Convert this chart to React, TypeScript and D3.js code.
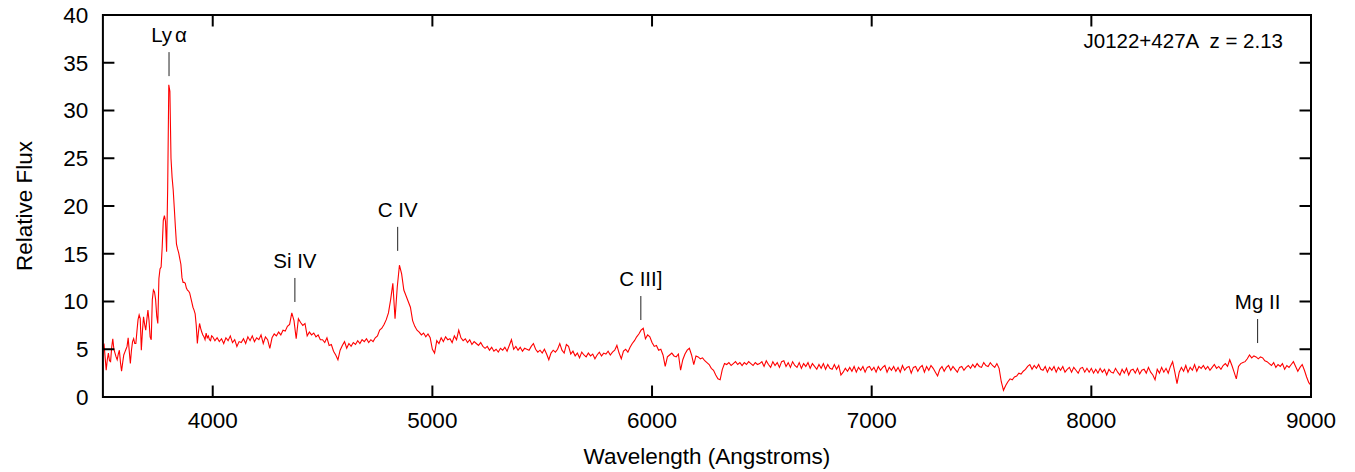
import React from 'react'
import * as d3 from 'd3'

// flux sampled on regular wavelength grids (Angstroms)
const lyaStart = 3500
const lyaStep = 5
const fluxLya = [
  5.0, 5.6, 4.2, 2.8, 3.9, 4.6, 3.8, 3.7, 5.2, 6.1,
  5.0, 4.6, 4.2, 3.9, 4.5, 4.9, 3.6, 2.7, 3.6, 4.4,
  4.7, 5.0, 5.3, 6.2, 4.8, 3.5, 4.9, 5.8, 6.1, 5.6,
  5.6, 6.9, 8.1, 8.6, 8.2, 4.9, 6.9, 8.4, 7.6, 7.0,
  8.1, 9.1, 8.0, 6.3, 6.0, 10.2, 11.2, 11.0, 10.2, 8.5,
  7.7, 12.4, 13.4, 13.6, 15.7, 18.5, 19.0, 18.4, 15.2, 22.0,
  32.7, 32.0, 25.0, 23.0, 21.7, 19.8, 17.8, 16.0, 15.5, 15.1,
  14.5, 13.9, 12.5, 12.0, 12.0, 11.9, 11.4, 11.2, 11.1, 10.9,
  10.4, 9.9, 9.4, 9.1, 8.7, 7.5, 5.6, 6.8, 7.7, 7.2,
  6.8, 6.5, 6.3, 6.0, 6.7, 6.2, 6.4, 6.0, 5.9, 6.4
]

const gridStep = 10
const flux4000 = [
  6.3, 5.9, 6.2, 5.8, 6.1, 5.6, 6.2, 5.9, 6.4, 5.7,
  6.0, 5.3, 5.8, 5.7, 6.1, 5.6, 6.3, 5.9, 6.4, 5.8,
  6.2, 6.0, 6.5, 5.6, 6.3, 6.0, 5.1, 6.2, 6.6, 6.4,
  6.8, 6.5, 7.0, 6.9, 7.4, 7.6, 8.8, 8.0, 6.1, 8.2,
  7.8, 7.5, 7.7, 6.4, 6.8, 6.5, 6.7, 6.3, 6.5, 6.0
]
const flux4500 = [
  6.0, 5.7, 6.2, 5.4, 5.5, 4.8, 4.4, 3.9, 4.9, 5.4,
  5.8, 5.1, 5.6, 5.3, 5.7, 5.5, 5.9, 5.6, 6.0, 5.8,
  6.1, 5.7, 6.0, 5.8, 6.2, 6.4, 7.0, 7.2, 7.6, 8.1,
  8.8, 10.2, 11.9, 8.2, 11.5, 13.8, 12.9, 11.2, 10.6, 10.0,
  9.4, 8.0, 7.4, 7.0, 6.8, 6.5, 6.7, 6.3, 6.6, 6.2
]
const flux5000 = [
  5.0, 4.6, 5.9, 5.6, 6.2, 5.8, 6.3, 6.0, 6.1, 5.7,
  6.4, 6.0, 7.0, 6.2, 5.9, 6.1, 5.7, 6.0, 5.5, 5.8,
  5.6, 5.4, 5.7, 5.3, 5.1, 5.3, 4.9, 5.2, 4.8, 5.0,
  4.7, 5.1, 4.9, 5.2, 4.8, 5.4, 6.0, 5.0, 5.3, 4.9,
  5.2, 4.8, 5.1, 5.0, 4.9, 5.3, 5.6, 5.0, 4.7, 4.9
]
const flux5500 = [
  4.6, 5.0, 4.5, 3.9, 4.6, 4.9, 4.7, 5.0, 5.6, 4.9,
  4.6, 5.5, 5.3, 4.5, 4.8, 4.3, 4.6, 4.1, 4.7, 4.4,
  4.2, 4.6, 4.3, 4.5, 4.0, 4.4, 4.7, 4.3, 4.6, 4.5,
  4.8, 4.4, 4.7, 4.9, 5.4, 4.6, 4.0, 4.8, 5.0, 4.7,
  5.2, 5.6, 5.9, 6.3, 6.6, 7.0, 7.2, 6.1, 6.5, 6.3
]
const flux6000 = [
  5.7, 5.3, 5.4, 4.9, 5.0, 4.4, 3.2, 4.2, 4.4, 4.6,
  4.3, 4.2, 4.5, 2.8, 3.9, 4.5, 4.9, 5.1, 4.4, 3.4,
  4.3, 4.2, 4.0, 4.1, 3.8, 3.6, 3.4, 3.0, 2.8, 2.3,
  1.9, 1.8, 2.9, 3.5, 3.4, 3.6, 3.3, 3.5, 3.7, 3.4,
  3.6, 3.3, 3.6, 3.4, 3.7, 3.5, 3.3, 3.6, 3.4, 3.5
]
const flux6500 = [
  3.7, 3.2, 3.8, 3.4, 3.1, 3.7, 3.3, 3.6, 3.1, 3.7,
  3.8, 3.2, 3.6, 3.1, 3.7, 3.3, 3.1, 3.6, 3.0, 3.5,
  3.2, 3.6, 3.0, 3.5, 3.2, 2.9, 3.4, 3.0, 3.5, 2.9,
  3.4, 3.0, 2.9, 3.4, 2.9, 3.3, 2.3, 2.6, 3.0, 2.7,
  3.1, 2.7, 3.2, 2.6, 3.1, 2.8, 3.2, 2.6, 3.1, 3.2
]
const flux7000 = [
  2.8, 3.1, 2.6, 3.2, 2.8, 3.1, 3.3, 2.6, 3.1, 2.8,
  3.2, 2.7, 3.1, 2.6, 3.3, 2.8, 3.1, 3.2, 2.5, 3.1,
  3.2, 2.7, 3.1, 3.3, 2.6, 3.2, 2.8, 3.3, 3.0, 2.6,
  2.2, 2.9, 3.2, 2.7, 3.1, 3.3, 2.8, 3.2, 2.9, 2.6,
  3.1, 3.2, 2.8, 3.1, 3.3, 3.0, 3.4, 3.1, 3.5, 3.2
]
const flux7500 = [
  3.1, 3.6, 3.3, 3.2, 3.6, 3.3, 3.1, 3.5, 3.0, 1.6,
  0.7, 1.2, 1.6, 1.9, 1.8, 2.1, 2.2, 2.5, 2.4, 2.7,
  2.9, 3.2, 3.4, 2.9, 3.3, 3.0, 3.4, 2.9, 2.8, 3.2,
  2.6, 3.1, 2.8, 3.2, 2.6, 3.1, 2.8, 3.2, 2.6, 2.9,
  3.1, 2.6, 3.1, 2.8, 2.5, 3.0, 3.1, 2.6, 3.0, 2.6
]
const flux8000 = [
  3.0, 2.5, 2.9, 2.5, 3.0, 2.6, 2.9, 2.3, 2.9, 2.6,
  2.5, 3.0, 2.6, 2.3, 2.9, 2.5, 3.0, 2.3, 2.8, 2.9,
  2.5, 3.0, 2.4, 2.8, 2.9, 2.5, 3.1, 2.6, 2.3, 1.8,
  2.9, 2.5, 3.1, 2.6, 3.0, 2.5, 3.2, 3.7, 2.6, 1.4,
  2.6, 3.1, 2.7, 3.3, 2.6, 3.1, 2.8, 3.4, 2.7, 3.2
]
const flux8500 = [
  3.0, 3.3, 2.9, 3.2, 2.8, 3.1, 3.4, 3.0, 3.2, 2.9,
  3.3, 3.5, 3.2, 3.9, 3.3, 2.6, 1.9, 3.2, 3.5, 3.6,
  3.7, 4.0, 4.4, 4.1, 4.3, 4.2, 4.0, 4.2, 4.1, 3.8,
  3.7, 3.5, 3.3, 3.6, 3.1, 3.4, 3.2, 3.5, 2.9, 3.3,
  3.1, 3.4, 3.7, 3.2, 2.7, 3.1, 3.4, 2.8, 2.1, 1.5,
  1.2
]

const segments: [number, number, number[]][] = [
  [lyaStart, lyaStep, fluxLya],
  [4000, gridStep, flux4000],
  [4500, gridStep, flux4500],
  [5000, gridStep, flux5000],
  [5500, gridStep, flux5500],
  [6000, gridStep, flux6000],
  [6500, gridStep, flux6500],
  [7000, gridStep, flux7000],
  [7500, gridStep, flux7500],
  [8000, gridStep, flux8000],
  [8500, gridStep, flux8500]
]

// emission line markers: name, wavelength, flux at the foot of the marker
const lineNames = ['Ly', 'Si IV', 'C IV', 'C III]', 'Mg II']
const lineWavelengths = [3801, 4374, 4842, 5949, 8757]
const lineFlux = [33.6, 9.95, 15.3, 8.06, 5.65]

const xTicks = [4000, 5000, 6000, 7000, 8000, 9000]
const yTicks = [0, 5, 10, 15, 20, 25, 30, 35, 40]
const title = 'J0122+427A  z = 2.13'

const font = 'Liberation Sans, Arial, sans-serif'

export default function App () {
  const width = 1355
  const height = 472
  const left = 102.9
  const right = 1311
  const top = 15
  const bottom = 397
  const tickLen = 11.5

  const x = d3.scaleLinear().domain([3500, 9000]).range([left, right])
  const y = d3.scaleLinear().domain([0, 40]).range([bottom, top])

  const spectrum = segments.flatMap(([start, step, values]) =>
    values.map((f, i) => [start + i * step, f] as [number, number]))

  const line = d3.line<[number, number]>()
    .x(d => x(d[0]))
    .y(d => y(d[1]))

  return <svg width={width} height={height} style={{ position: 'absolute', left: 0, top: 0 }}
    fontFamily={font} fontSize={22.5}>
    <rect width={width} height={height} fill='#fff' />
    <defs>
      <clipPath id='plot'>
        <rect x={left} y={top} width={right - left} height={bottom - top} />
      </clipPath>
    </defs>
    <path d={line(spectrum) ?? ''} fill='none' stroke='#f00' strokeWidth={1.1} clipPath='url(#plot)' />

    {
      lineNames.map((name, i) => {
        const lx = x(lineWavelengths[i])
        const ly = y(lineFlux[i])
        return <g key={name}>
          <line x1={lx} x2={lx} y1={ly} y2={ly - 24} stroke='#222' strokeWidth={1} />
          <text x={lx} y={ly - 34} textAnchor='middle' fontSize={20.5}>
            {name}{i === 0 ? <tspan dx='3'>α</tspan> : null}
          </text>
        </g>
      })
    }

    <rect x={left} y={top} width={right - left} height={bottom - top} fill='none' stroke='#000' strokeWidth={2} />
    {
      yTicks.map(v => <g key={v}>
        <line x1={left} x2={left + tickLen} y1={y(v)} y2={y(v)} stroke='#000' strokeWidth={2} />
        <line x1={right} x2={right - tickLen} y1={y(v)} y2={y(v)} stroke='#000' strokeWidth={2} />
        <text x={left - 14.5} y={y(v)} dy='0.35em' textAnchor='end'>{v}</text>
      </g>)
    }
    {
      xTicks.map(v => <g key={v}>
        <line x1={x(v)} x2={x(v)} y1={bottom} y2={bottom - tickLen} stroke='#000' strokeWidth={2} />
        <line x1={x(v)} x2={x(v)} y1={top} y2={top + tickLen} stroke='#000' strokeWidth={2} />
        <text x={x(v)} y={bottom + 30.5} textAnchor='middle'>{v}</text>
      </g>)
    }
    <text x={(left + right) / 2} y={464} textAnchor='middle'>Wavelength (Angstroms)</text>
    <text transform={`translate(31.5,${(top + bottom) / 2}) rotate(-90)`} textAnchor='middle'>Relative Flux</text>
    <text x={1283} y={48} textAnchor='end' fontSize={20.5} xmlSpace='preserve' style={{ whiteSpace: 'pre' }}>{title}</text>
  </svg>
}
